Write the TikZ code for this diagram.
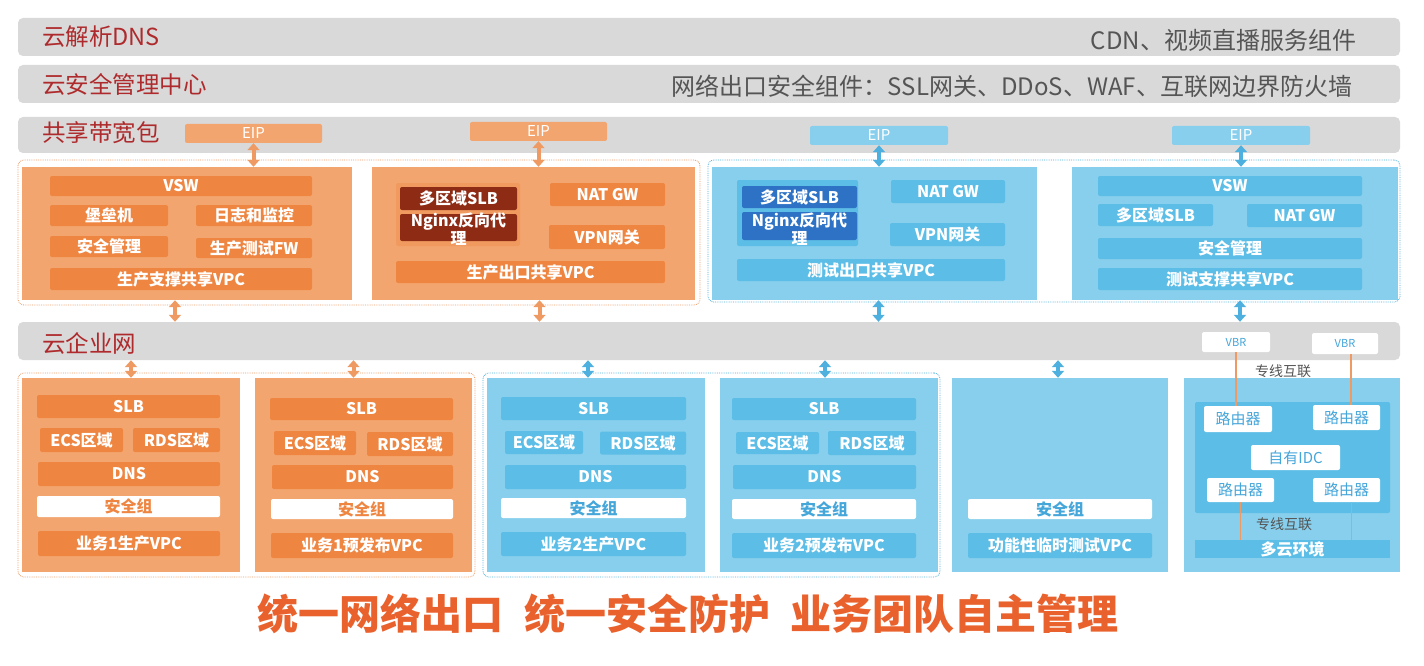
\documentclass[tikz,border=0pt]{standalone}
\usepackage{fontspec}
\setmainfont{Noto Sans CJK SC}
\usepackage{tikz}
\usetikzlibrary{positioning,arrows.meta}

\definecolor{barGray}{HTML}{D9D9D9}
\definecolor{titleRed}{HTML}{AE2A2C}
\definecolor{noteGray}{HTML}{555555}
\definecolor{orgPanel}{HTML}{F3A56F}
\definecolor{orgBox}{HTML}{EE8642}
\definecolor{orgDark}{HTML}{8E2B14}
\definecolor{orgLine}{HTML}{EE9A62}
\definecolor{bluPanel}{HTML}{87CFEC}
\definecolor{bluBox}{HTML}{5CBDE6}
\definecolor{bluDark}{HTML}{2D72C4}
\definecolor{bluLine}{HTML}{4DB0DF}
\definecolor{bluText}{HTML}{45A6DA}
\definecolor{sloganOrange}{HTML}{E9622D}

\tikzset{
  wh/.style 2 args={minimum width=#1, minimum height=#2},
  bar/.style={fill=barGray, rounded corners=5pt, wh={1382}{38}},
  bartitle/.style={text=titleRed, inner sep=0pt, font=\fontsize{23.5}{26}\selectfont},
  barnote/.style={text=noteGray, inner sep=0pt, font=\fontsize{24}{26}\selectfont},
  cell/.style={rounded corners=2pt, inner sep=0pt, text=white, font=\bfseries\fontsize{16}{18}\selectfont},
  obox/.style={cell, fill=orgBox},
  dbox/.style={cell, fill=orgDark},
  lbox/.style={cell, fill=bluBox},
  nbox/.style={cell, fill=bluDark},
  owhite/.style={cell, fill=white, text=orgBox},
  bwhite/.style={cell, fill=white, text=bluText},
  oeip/.style={cell, fill=orgPanel, wh={137}{19}, font=\fontsize{15}{17}\selectfont},
  beip/.style={cell, fill=bluPanel, wh={138}{19}, font=\fontsize{15}{17}\selectfont},
  rwhite/.style={cell, fill=white, text=bluText, font=\fontsize{15}{17}\selectfont},
  opanel/.style={fill=orgPanel},
  bpanel/.style={fill=bluPanel},
  grp/.style={densely dotted, line width=0.8pt, rounded corners=6pt},
  oarrow/.style={draw=orgLine, line width=4pt},
  barrow/.style={draw=bluLine, line width=4pt},
  tip/.tip={Stealth[length=7pt, width=12pt, inset=0pt]},
  lbl/.style={text=noteGray, font=\fontsize{14}{16}\selectfont},
}

\begin{document}
\begin{tikzpicture}[x=1pt, y=-1pt]
  \path[use as bounding box, fill=white] (0,0) rectangle (1424,666);

  % cloud services on top
  \node (dns) [bar] at (709,37) {};
  \node (dnst) [bartitle, right=24pt of dns.west] {云解析DNS};
  \node (dnsn) [barnote, left=44pt of dns.east, yshift=-3pt] {CDN、视频直播服务组件};
  \node (sec) [bar] at (709,84) {};
  \node (sect) [bartitle, right=24pt of sec.west] {云安全管理中心};
  \node (secn) [barnote, left=48pt of sec.east, yshift=-2pt] {网络出口安全组件：SSL网关、DDoS、WAF、互联网边界防火墙};
  \node (bw) [bar, minimum height=36] at (709,135) {};
  \node (bwt) [bartitle, right=24pt of bw.west, yshift=2pt] {共享带宽包};
  \node (eip1) [oeip] at (253.5,133.5) {EIP};
  \node (eip2) [oeip] at (538.5,131.5) {EIP};
  \node (eip3) [beip] at (879,135.5) {EIP};
  \node (eip4) [beip] at (1241,135.5) {EIP};

  % shared VPCs
  \node (ogrp) [grp, draw=orgLine, wh={682}{145}] at (359,232.5) {};
  \node (bgrp) [grp, draw=bluLine, wh={692}{142}] at (1054,231) {};
  \node (prodsup) [opanel, wh={330}{133}] at (187,233.5) {};
  \node (prodout) [opanel, wh={323}{133}] at (533.5,233.5) {};
  \node (testout) [bpanel, wh={325}{133}] at (874.5,233.5) {};
  \node (testsup) [bpanel, wh={326}{133}] at (1235,233.5) {};

  \node (vsw1) [obox, wh={262}{20}] at (181,186) {VSW};
  \node (bastion) [obox, wh={118}{21}] at (109,215.5) {堡垒机};
  \node (logmon) [obox, wh={116}{21}] at (254,215.5) {日志和监控};
  \node (secmgr1) [obox, wh={118}{21}] at (109,246.5) {安全管理};
  \node (prodfw) [obox, wh={116}{20}] at (254,248) {生产测试FW};
  \node (vpc1) [obox, wh={262}{22}] at (181,279) {生产支撑共享VPC};

  \node (lb2) [cell, fill=orgBox!35!orgPanel, wh={124}{63}] at (458,214.5) {};
  \node (slb2) [dbox, wh={117}{23}] at (458.5,198.5) {多区域SLB};
  \node (ngx2) [dbox, wh={117}{27}] at (458.5,227.5) {};
  \node (ngx2t) [cell, align=center] at (458.5,229.5) {Nginx反向代\\理};
  \node (nat2) [obox, wh={115}{23}] at (607.5,194.5) {NAT GW};
  \node (vpn2) [obox, wh={116}{24}] at (607,237) {VPN网关};
  \node (vpc2) [obox, wh={269}{22}] at (530.5,272) {生产出口共享VPC};

  \node (lb3) [lbox, wh={121}{66}] at (797.5,213) {};
  \node (slb3) [nbox, wh={115}{22}] at (799.5,197) {多区域SLB};
  \node (ngx3) [nbox, wh={115}{28}] at (799.5,226) {};
  \node (ngx3t) [cell, align=center] at (799.5,229) {Nginx反向代\\理};
  \node (nat3) [lbox, wh={114}{23}] at (948,191.5) {NAT GW};
  \node (vpn3) [lbox, wh={115}{23}] at (947.5,234.5) {VPN网关};
  \node (vpc3) [lbox, wh={268}{22}] at (871,270) {测试出口共享VPC};

  \node (vsw4) [lbox, wh={264}{20}] at (1230,186) {VSW};
  \node (slb4) [lbox, wh={115}{22}] at (1155.5,215) {多区域SLB};
  \node (nat4) [lbox, wh={115}{23}] at (1304.5,215.5) {NAT GW};
  \node (secmgr4) [lbox, wh={264}{21}] at (1230,248.5) {安全管理};
  \node (vpc4) [lbox, wh={264}{22}] at (1230,279) {测试支撑共享VPC};

  % cloud enterprise network
  \node (cen) [bar] at (709,341) {};
  \node (cent) [bartitle, right=24pt of cen.west, yshift=-2pt] {云企业网};
  \node (vbr1) [rwhite, wh={68}{20}, font=\fontsize{11}{13}\selectfont] at (1236,342) {VBR};
  \node (vbr2) [rwhite, wh={66}{21}, font=\fontsize{11}{13}\selectfont] at (1345,343.5) {VBR};

  % business VPCs
  \node (ogrp2) [grp, draw=orgLine, wh={457}{204}] at (246.5,475) {};
  \node (bgrp2) [grp, draw=bluLine, wh={457}{204}] at (711.5,475) {};
  \node (biz1prod) [opanel, wh={218}{194}] at (131,475) {};
  \node (biz1pre) [opanel, wh={217}{194}] at (363.5,475) {};
  \node (biz2prod) [bpanel, wh={218}{194}] at (596,475) {};
  \node (biz2pre) [bpanel, wh={218}{194}] at (829,475) {};
  \node (functest) [bpanel, wh={216}{194}] at (1060,475) {};
  \node (multi) [bpanel, wh={216}{194}] at (1292,475) {};

  \node (slbA) [obox, wh={183}{23}] at (128.5,406.5) {SLB};
  \node (ecsA) [obox, wh={83}{24}] at (81.5,440) {ECS区域};
  \node (rdsA) [obox, wh={87}{24}] at (176.5,440) {RDS区域};
  \node (dnsA) [obox, wh={182}{24}] at (129,474) {DNS};
  \node (sgA) [owhite, wh={183}{21}] at (128.5,506.5) {安全组};
  \node (vpcA) [obox, wh={182}{25}] at (129,543.5) {业务1生产VPC};

  \node (slbB) [obox, wh={183}{22}] at (361.5,409) {SLB};
  \node (ecsB) [obox, wh={82}{24}] at (315,443) {ECS区域};
  \node (rdsB) [obox, wh={86}{24}] at (410,444) {RDS区域};
  \node (dnsB) [obox, wh={181}{24}] at (362.5,477) {DNS};
  \node (sgB) [owhite, wh={182}{20}] at (362,509) {安全组};
  \node (vpcB) [obox, wh={182}{25}] at (362,545.5) {业务1预发布VPC};

  \node (slbC) [lbox, wh={185}{23}] at (593.5,408.5) {SLB};
  \node (ecsC) [lbox, wh={78}{23}] at (544,442.5) {ECS区域};
  \node (rdsC) [lbox, wh={86}{23}] at (643,443) {RDS区域};
  \node (dnsC) [lbox, wh={181}{24}] at (595.5,477) {DNS};
  \node (sgC) [bwhite, wh={185}{20}] at (593.5,508) {安全组};
  \node (vpcC) [lbox, wh={185}{24}] at (593.5,544) {业务2生产VPC};

  \node (slbD) [lbox, wh={184}{22}] at (824,409) {SLB};
  \node (ecsD) [lbox, wh={83}{22}] at (777.5,443) {ECS区域};
  \node (rdsD) [lbox, wh={88}{24}] at (872,443) {RDS区域};
  \node (dnsD) [lbox, wh={183}{24}] at (824.5,477) {DNS};
  \node (sgD) [bwhite, wh={184}{20}] at (824,509) {安全组};
  \node (vpcD) [lbox, wh={184}{25}] at (824,545.5) {业务2预发布VPC};

  \node (sgE) [bwhite, wh={184}{20}] at (1060,509) {安全组};
  \node (vpcE) [lbox, wh={184}{25}] at (1060,545.5) {功能性临时测试VPC};

  \node (idcbox) [lbox, wh={195}{111}] at (1292.5,457.5) {};
  \node (rt1) [rwhite, wh={68}{26}] at (1238,419) {路由器};
  \node (rt2) [rwhite, wh={67}{25}] at (1346.5,417.5) {路由器};
  \node (idc) [rwhite, wh={89}{25}] at (1295.5,457.5) {自有IDC};
  \node (rt3) [rwhite, wh={67}{24}] at (1240.5,490) {路由器};
  \node (rt4) [rwhite, wh={67}{24}] at (1346.5,490) {路由器};
  \node (cloud) [lbox, rounded corners=0pt, wh={195}{18}] at (1292.5,549) {多云环境};
  \node (zx1) [lbl] at (1283,371) {专线互联};
  \node (zx2) [lbl] at (1284,524) {专线互联};

  \path[tip-tip]
    (eip1.south) edge [oarrow] (eip1.south |- prodsup.north)
    (eip2.south) edge [oarrow] (eip2.south |- prodout.north)
    (eip3.south) edge [barrow] (eip3.south |- testout.north)
    (eip4.south) edge [barrow] (eip4.south |- testsup.north)
    ([xshift=-12pt]prodsup.south) edge [oarrow] ([xshift=-12pt]prodsup.south |- cen.north)
    ([xshift=6pt]prodout.south) edge [oarrow] ([xshift=6pt]prodout.south |- cen.north)
    ([xshift=4pt]testout.south) edge [barrow] ([xshift=4pt]testout.south |- cen.north)
    ([xshift=5pt]testsup.south) edge [barrow] ([xshift=5pt]testsup.south |- cen.north)
    (biz1prod.north) edge [oarrow] (biz1prod.north |- cen.south)
    ([xshift=-10pt]biz1pre.north) edge [oarrow] ([xshift=-10pt]biz1pre.north |- cen.south)
    ([xshift=-8pt]biz2prod.north) edge [barrow] ([xshift=-8pt]biz2prod.north |- cen.south)
    ([xshift=-4pt]biz2pre.north) edge [barrow] ([xshift=-4pt]biz2pre.north |- cen.south)
    ([xshift=-2pt]functest.north) edge [barrow] ([xshift=-2pt]functest.north |- cen.south);

  \path[draw=orgLine, line width=1.2pt]
    (vbr1.south) edge (vbr1.south |- rt1.north)
    ([xshift=6pt]vbr2.south) edge ([xshift=6pt]vbr2.south |- rt2.north)
    (rt3.south) edge (rt3.south |- cloud.north)
    ([xshift=5pt]rt4.south) edge ([xshift=5pt]rt4.south |- cloud.north);

  \node (slogan) [text=sloganOrange, font=\bfseries\fontsize{41}{44}\selectfont] at (688,614)
    {统一网络出口\enspace 统一安全防护\enspace 业务团队自主管理};
\end{tikzpicture}
\end{document}
